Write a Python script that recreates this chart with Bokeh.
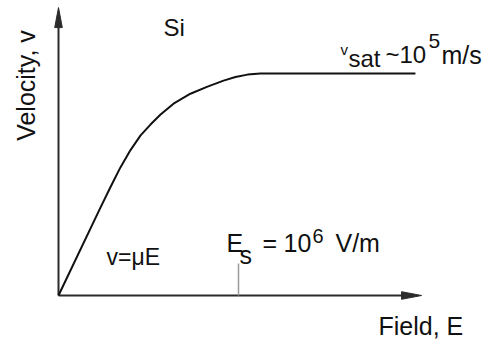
from bokeh.plotting import figure
from bokeh.models import Range1d
from bokeh.core.properties import value
from bokeh.embed import file_html
from bokeh.resources import INLINE
import math

# Drift velocity of electrons in Si versus electric field
# field in units of E_s (1e6 V/m), velocity in units of v_sat (1e5 m/s)
field = [0.0, 0.233, 0.289, 0.344, 0.400, 0.456, 0.511, 0.567, 0.639, 0.733,
         0.828, 0.917, 0.983, 1.050, 1.122, 1.983]
velocity = [0.0, 0.396, 0.489, 0.577, 0.655, 0.721, 0.770, 0.815, 0.864, 0.909,
            0.941, 0.968, 0.984, 0.995, 1.0, 1.0]

E_S = 1.0      # saturation field (1e6 V/m)
V_SAT = 1.0    # saturation velocity (1e5 m/s)

# canvas geometry
W, H = 496, 343
ORIGIN_PX = (58, 295)      # where the axes meet
PX_PER_E = 180.0
PX_PER_V = 222.0

x_lo = -ORIGIN_PX[0] / PX_PER_E
x_hi = (W - ORIGIN_PX[0]) / PX_PER_E
y_lo = -(H - ORIGIN_PX[1]) / PX_PER_V
y_hi = ORIGIN_PX[1] / PX_PER_V

p = figure(width=W, height=H, output_backend="svg", toolbar_location=None,
           x_axis_type=None, y_axis_type=None, min_border=0,
           x_range=Range1d(x_lo, x_hi), y_range=Range1d(y_lo, y_hi))
p.outline_line_color = None
p.background_fill_color = "white"
p.border_fill_color = "white"

AXIS_COLOR = "#2b2b2b"

# arrow axes
X_TIP = 2.017
Y_TIP = 1.297
HEAD_LEN_PX = 20.0
HEAD_HALF_PX = 3.8

p.line([0, X_TIP - HEAD_LEN_PX / PX_PER_E], [0, 0], line_color=AXIS_COLOR, line_width=2)
p.line([0, 0], [0, Y_TIP - HEAD_LEN_PX / PX_PER_V], line_color=AXIS_COLOR, line_width=2)

xb = X_TIP - HEAD_LEN_PX / PX_PER_E
p.patch([xb, X_TIP, xb], [HEAD_HALF_PX / PX_PER_V, 0, -HEAD_HALF_PX / PX_PER_V],
        fill_color=AXIS_COLOR, line_color=AXIS_COLOR, line_width=1)
yb = Y_TIP - HEAD_LEN_PX / PX_PER_V
p.patch([-HEAD_HALF_PX / PX_PER_E, 0, HEAD_HALF_PX / PX_PER_E], [yb, Y_TIP, yb],
        fill_color=AXIS_COLOR, line_color=AXIS_COLOR, line_width=1)

# E_s marker on the field axis
ES_TICK_HEIGHT = 0.144
p.line([E_S, E_S], [0, ES_TICK_HEIGHT], line_color="#9a9a9a", line_width=1.5)

# velocity-field curve
p.line(field, velocity, line_color="#111111", line_width=2, line_join="round")

FONT = value("Liberation Sans")


def put(text, ax, ay, dx, dy, size, angle=0.0, align="left", baseline="alphabetic"):
    p.text(x=[ax], y=[ay], text=[text], x_offset=dx, y_offset=dy, angle=angle,
           text_font=FONT, text_font_size=f"{size}px", text_color="#111111",
           text_align=align, text_baseline=baseline)


# labels anchored to the axes
put("Si", 0, V_SAT, 105, -46, 24)
put("Velocity, v", 0, V_SAT, -33, 12, 25, angle=math.pi / 2, align="center", baseline="middle")
put("v=\u03bcE", 0, 0, 48, -39, 23)
put("Field, E", 0, 0, 320, 30, 25)

# E_s = 10^6 V/m
put("E", E_S, 0, -12, -53, 25)
put("s", E_S, 0, 1, -41, 25)
put("=", E_S, 0, 24, -53, 25)
put("10", E_S, 0, 45, -53, 25)
put("6", E_S, 0, 74, -60, 20)
put("V/m", E_S, 0, 97, -53, 25)

# v_sat ~ 10^5 m/s, anchored at the end of the saturation line
END_E = field[-1]
put("v", END_E, V_SAT, -75, -24, 15)
put("sat", END_E, V_SAT, -67, -15, 24)
put("~10", END_E, V_SAT, -30, -19, 24)
put("5", END_E, V_SAT, 13, -33, 21)
put("m/s", END_E, V_SAT, 26, -19, 25)

open("out.html", "w").write(file_html(p, INLINE))
